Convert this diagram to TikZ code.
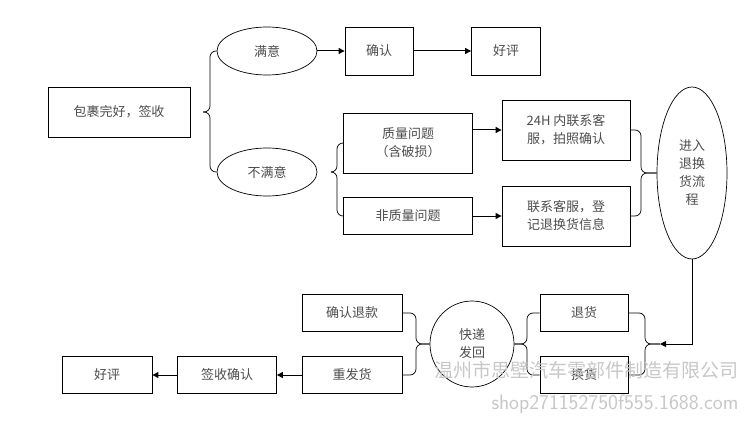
\documentclass[tikz,border=0pt]{standalone}
\usepackage{fontspec}
\setmainfont{Liberation Serif}
\newfontfamily\cjk{Noto Sans CJK SC}
\usetikzlibrary{shapes.geometric,arrows.meta,calc}
\begin{document}
\begin{tikzpicture}[x=1pt,y=-1pt,
  every node/.style={font=\cjk\fontsize{13}{18}\selectfont, text=black!70},
  box/.style={draw, line width=0.8pt, inner sep=0pt, align=center},
  ell/.style={draw, ellipse, line width=0.7pt, inner sep=0pt, align=center},
  arr/.style={line width=1pt, -{Triangle[length=6pt,width=6pt]}},
  br/.style={line width=0.7pt, rounded corners=6pt}]
\useasboundingbox (0,0) rectangle (750,433);
% nodes
\node[box, minimum width=142pt, minimum height=50pt] (pkg) at (119,112) {包裹完好，签收};
\node[ell, minimum width=100pt, minimum height=48pt] (ok) at (267,51) {满意};
\node[ell, minimum width=100pt, minimum height=48pt] (nok) at (267,172) {不满意};
\node[box, minimum width=68pt, minimum height=48pt] (conf) at (379,51) {确认};
\node[box, minimum width=69pt, minimum height=48pt] (good1) at (506,51) {好评};
\node[box, minimum width=129pt, minimum height=60pt] (q) at (408,143) {质量问题\\（含破损）};
\node[box, line width=1.3pt, minimum width=129pt, minimum height=37pt] (nq) at (408,216) {非质量问题};
\node[box, minimum width=128pt, minimum height=60pt] (h24) at (566,130) {24H 内联系客\\服，拍照确认};
\node[box, minimum width=128pt, minimum height=60pt] (reg) at (566,216) {联系客服，登\\记退换货信息};
\node[ell, minimum width=70pt, minimum height=172pt] (flow) at (692,173) {进入\\退换\\货流\\程};
\node[box, minimum width=88pt, minimum height=37pt] (ret) at (584,313) {退货};
\node[box, minimum width=88pt, minimum height=37pt] (exch) at (584,375) {换货};
\node[ell, minimum width=84pt, minimum height=86pt] (exp) at (472,344) {快递\\发回};
\node[box, minimum width=100pt, minimum height=37pt] (refund) at (352,313) {确认退款};
\node[box, minimum width=100pt, minimum height=37pt] (resend) at (352,375) {重发货};
\node[box, minimum width=99pt, minimum height=37pt] (sign) at (227,375) {签收确认};
\node[box, minimum width=90pt, minimum height=37pt] (good2) at (107,375) {好评};
\coordinate (tipA) at (660,344);
% arrows
\draw[arr] (ok) -- (conf);
\draw[arr] (conf) -- (good1);
\draw[arr] (q.east |- h24.west) -- (h24.west);
\draw[arr] (nq.east) -- (reg.west |- nq.east);
\draw[arr] (flow.south) |- (tipA);
\draw[arr] (resend) -- (sign);
\draw[arr] (sign) -- (good2);
% braces
\draw[br] (ok.west) -- (210,51) -- (210,112) -- (203,112);
\draw[br] (nok.west) -- (210,172) -- (210,112) -- (203,112);
\draw[br] (q.west) -- (337,143) -- (337,172) -- (331,172);
\draw[br] (nq.west) -- (337,216) -- (337,172) -- (331,172);
\draw[br] (h24.east) -- (641,130) -- (641,173) -- (flow.west);
\draw[br] (reg.east) -- (641,216) -- (641,173) -- (flow.west);
\draw[br] (refund.east) -- (416,313) -- (416,344) -- (exp.west);
\draw[br] (resend.east) -- (416,375) -- (416,344) -- (exp.west);
\draw[br] (ret.west) -- (527,313) -- (527,344) -- (exp.east);
\draw[br] (exch.west) -- (527,375) -- (527,344) -- (exp.east);
\draw[br] (ret.east) -- (645,313) -- (645,344) -- (tipA);
\draw[br] (exch.east) -- (645,375) -- (645,344) -- (tipA);
% watermark
\node[font=\cjk\fontsize{19}{20}\selectfont, text=black!22, anchor=east] (wm1) at (742,370) {温州市思壁汽车零部件制造有限公司};
\node[font=\fontfamily{lmss}\fontsize{21}{22}\selectfont, text=black!22, anchor=east] (wm2) at (742,404) {\sffamily shop271152750f555.1688.com};
\end{tikzpicture}
\end{document}
